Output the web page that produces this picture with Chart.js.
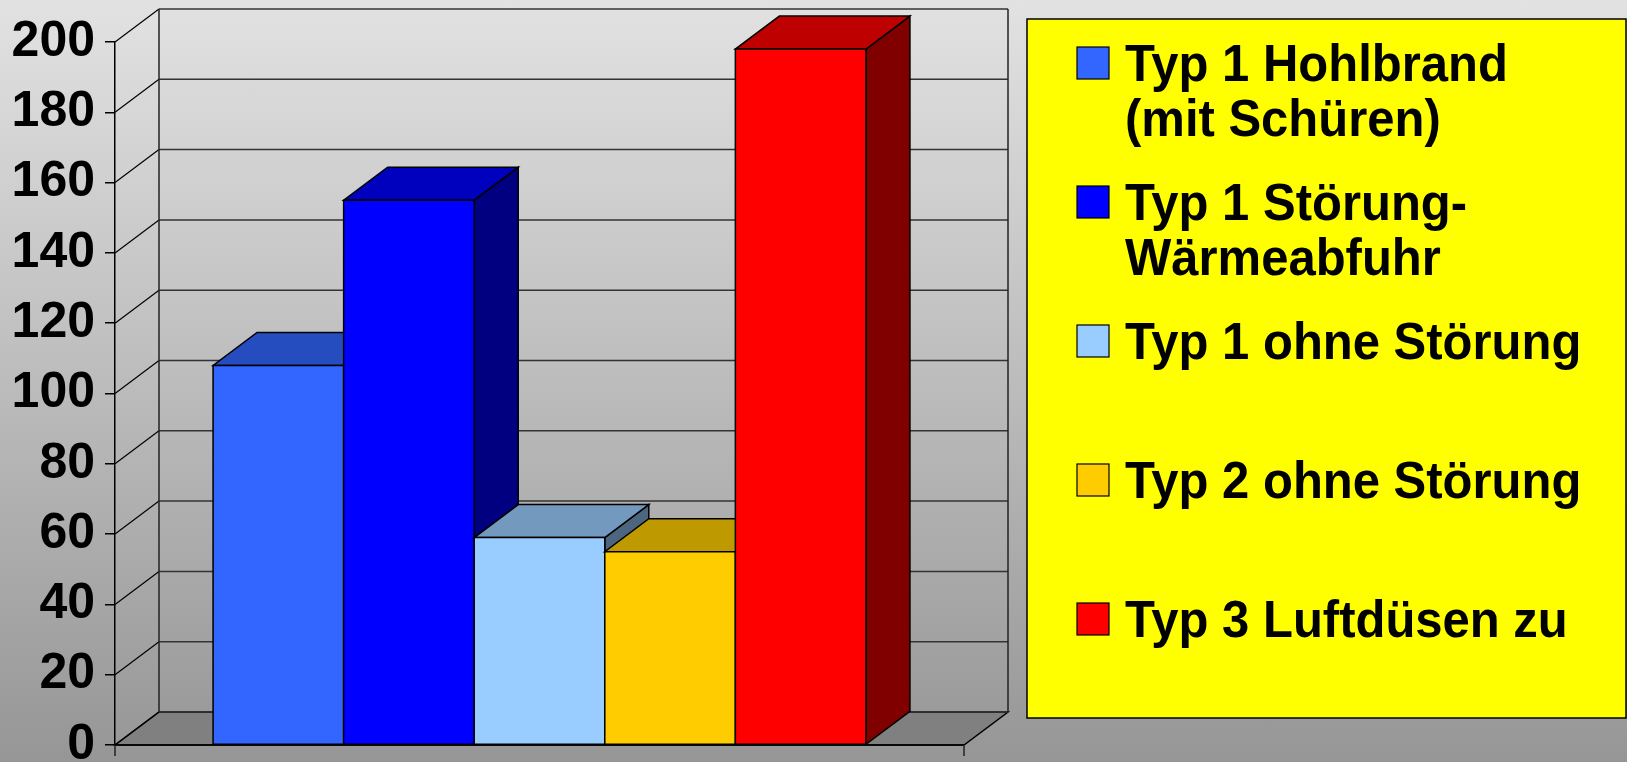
<!DOCTYPE html>
<html>
<head>
<meta charset="utf-8">
<script src="https://cdn.jsdelivr.net/npm/chart.js@4/dist/chart.umd.min.js"></script>
<style>
  html, body { margin: 0; padding: 0; }
  body { width: 1627px; height: 762px; overflow: hidden; background: linear-gradient(#e2e2e2, #969696); }
  canvas { display: block; }
</style>
</head>
<body>
<canvas id="chart" width="1627" height="762"></canvas>
<script>
const categories = [""];
const seriesNames = [
  "Typ 1 Hohlbrand\n(mit Schüren)",
  "Typ 1 Störung-\nWärmeabfuhr",
  "Typ 1 ohne Störung",
  "Typ 2 ohne Störung",
  "Typ 3 Luftdüsen zu",
];
const seriesValues = [108, 155, 59, 55, 198];
const seriesColors = ["#3366FF", "#0000FF", "#99CCFF", "#FFCC00", "#FF0000"];
const yMin = 0;
const yMax = 200;
const yStep = 20;

const FONT = "'Liberation Sans', Arial, sans-serif";
const DEPTH = { dx: 44, dy: 33 };

function shade(hex, f) {
  const n = parseInt(hex.slice(1), 16);
  const c = [(n >> 16) & 255, (n >> 8) & 255, n & 255].map((v) => Math.round(v * f));
  return `rgb(${c.join(",")})`;
}

function poly(ctx, pts, fill, stroke) {
  ctx.beginPath();
  ctx.moveTo(pts[0][0], pts[0][1]);
  pts.slice(1).forEach(([x, y]) => ctx.lineTo(x, y));
  ctx.closePath();
  if (fill) {
    ctx.fillStyle = fill;
    ctx.fill();
  }
  if (stroke) {
    ctx.strokeStyle = stroke;
    ctx.stroke();
  }
}

function line(ctx, x1, y1, x2, y2, color, width) {
  ctx.beginPath();
  ctx.moveTo(x1, y1);
  ctx.lineTo(x2, y2);
  ctx.strokeStyle = color;
  ctx.lineWidth = width;
  ctx.stroke();
}

// walls, floor and back grid of the 3D box
const wallsPlugin = {
  id: "walls",
  beforeDatasetsDraw(chart) {
    const { ctx, chartArea, scales } = chart;
    const { dx, dy } = DEPTH;
    const left = chartArea.left;
    const right = chartArea.right;
    const bottom = scales.y.getPixelForValue(yMin);
    const top = scales.y.getPixelForValue(yMax);
    ctx.save();
    ctx.lineWidth = 1.5;
    poly(ctx, [[left, bottom], [right, bottom], [right + dx, bottom - dy], [left + dx, bottom - dy]], "#808080", "#000");
    scales.y.ticks.forEach((t) => {
      const yv = scales.y.getPixelForValue(t.value);
      line(ctx, left + dx, yv - dy, right + dx, yv - dy, "#333", 1.5);
      line(ctx, left, yv, left + dx, yv - dy, "#000", 1.2);
    });
    line(ctx, left + dx, top - dy, left + dx, bottom - dy, "#222", 1.5);
    line(ctx, right + dx, top - dy, right + dx, bottom - dy, "#222", 1.5);
    line(ctx, left, bottom, right, bottom, "#000", 1.5);
    line(ctx, left, bottom, left, bottom + 11, "#222", 1.5);
    line(ctx, right, bottom, right, bottom + 11, "#222", 1.5);
    ctx.restore();
  },
  afterDatasetsDraw(chart) {
    const { ctx } = chart;
    const { dx, dy } = DEPTH;
    ctx.save();
    ctx.lineWidth = 1.5;
    chart.data.datasets.forEach((ds, i) => {
      const el = chart.getDatasetMeta(i).data[0];
      const { x, y, base, width } = el.getProps(["x", "y", "base", "width"], true);
      const l = x - width / 2;
      const r = x + width / 2;
      const color = ds.backgroundColor;
      poly(ctx, [[r, base], [r, y], [r + dx, y - dy], [r + dx, base - dy]], shade(color, 0.5), "#000");
      poly(ctx, [[l, y], [r, y], [r + dx, y - dy], [l + dx, y - dy]], shade(color, 0.75), "#000");
      poly(ctx, [[l, y], [r, y], [r, base], [l, base]], color, "#000");
    });
    ctx.restore();
  },
  afterDraw(chart) {
    const { ctx } = chart;
    const box = { x: 1027, y: 19, w: 599, h: 699 };
    ctx.save();
    ctx.fillStyle = "#FFFF00";
    ctx.fillRect(box.x, box.y, box.w, box.h);
    ctx.strokeStyle = "#000";
    ctx.lineWidth = 1.5;
    ctx.strokeRect(box.x, box.y, box.w, box.h);
    ctx.font = `bold 49px ${FONT}`;
    ctx.textBaseline = "alphabetic";
    chart.data.datasets.forEach((ds, i) => {
      const base = 81 + i * 139;
      ctx.fillStyle = ds.backgroundColor;
      ctx.fillRect(1077, base - 34, 32, 32);
      ctx.strokeStyle = "#000";
      ctx.lineWidth = 1.2;
      ctx.strokeRect(1077, base - 34, 32, 32);
      ctx.fillStyle = "#000";
      ds.label.split("\n").forEach((text, k) => {
        ctx.save();
        ctx.translate(1125, base + k * 55);
        ctx.scale(1, 1.07);
        ctx.fillText(text, 0, 0);
        ctx.restore();
      });
    });
    ctx.restore();
  },
};

new Chart(document.getElementById("chart"), {
  type: "bar",
  data: {
    labels: categories,
    datasets: seriesNames.map((name, i) => ({
      label: name,
      data: [seriesValues[i]],
      backgroundColor: seriesColors[i],
      borderColor: "#000",
      borderWidth: 1.5,
      categoryPercentage: 0.769,
      barPercentage: 1,
    })),
  },
  options: {
    responsive: false,
    animation: false,
    devicePixelRatio: 1,
    layout: { padding: { left: 0, top: 42, right: 663, bottom: 17 } },
    plugins: { legend: { display: false }, tooltip: { enabled: false } },
    scales: {
      x: { display: false },
      y: {
        min: yMin,
        max: yMax,
        ticks: { stepSize: yStep, color: "#000", padding: 10, font: { family: FONT, weight: "bold", size: 50 } },
        grid: { drawOnChartArea: false, drawTicks: true, tickLength: 10, color: "#000", lineWidth: 1.5 },
        border: { display: true, color: "#000", width: 1.5 },
        afterFit(scale) {
          scale.width = 115;
          scale.paddingTop = 0;
          scale.paddingBottom = 0;
        },
      },
    },
  },
  plugins: [wallsPlugin],
});
</script>
</body>
</html>
